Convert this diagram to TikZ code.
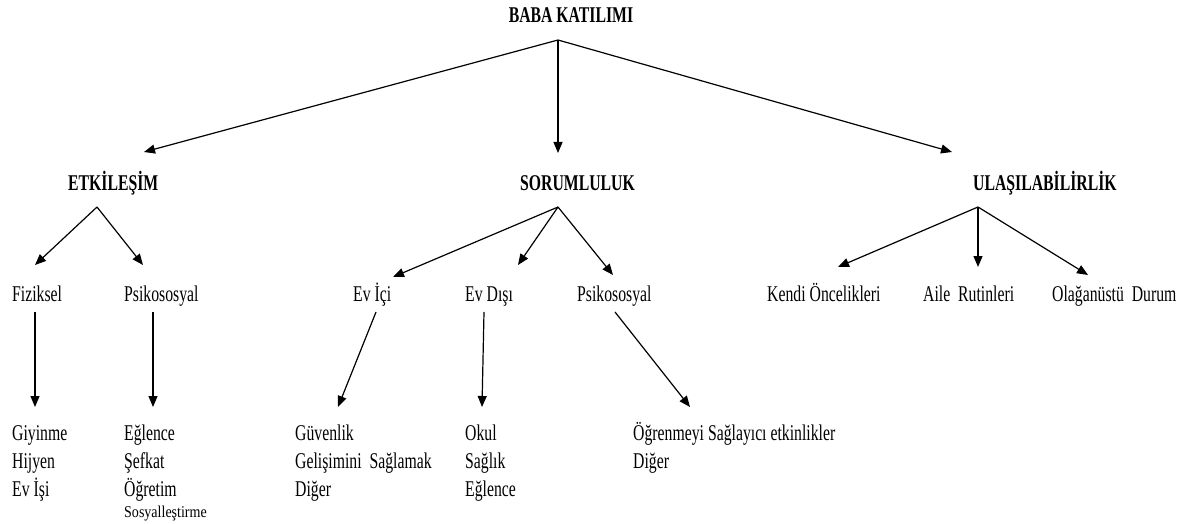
\documentclass[tikz,border=0pt]{standalone}
\usepackage{fontspec}
\setmainfont{Liberation Serif}[FakeStretch=0.70]
\newfontfamily\sosfont{Liberation Serif}[FakeStretch=0.85]
\usetikzlibrary{arrows.meta}
\begin{document}
\begin{tikzpicture}[x=1pt,y=-1pt,
  arr/.style={line width=1.2pt,-{Triangle[length=11pt,width=9pt]}},
  head/.style={inner sep=0pt,anchor=base west,font=\fontsize{22.5}{28}\selectfont\bfseries},
  lbl/.style={inner sep=0pt,anchor=base west,font=\fontsize{22.5}{28}\selectfont},
  lst/.style={inner sep=0pt,anchor=base west,font=\fontsize{22.5}{28}\selectfont}]
\useasboundingbox (0,0) rectangle (1186,524);
% texts
\node[head,anchor=base] (baba) at (571,23) {BABA KATILIMI};
\node[head] (etk) at (68,190) {ETKİLEŞİM};
\node[head] (sor) at (520,190) {SORUMLULUK};
\node[head] (ula) at (973,190) {ULAŞILABİLİRLİK};
\node[lbl] (fiz) at (12,301) {Fiziksel};
\node[lbl] (psi1) at (124,301) {Psikososyal};
\node[lbl] (evic) at (353,301) {Ev İçi};
\node[lbl] (evdis) at (465,301) {Ev Dışı};
\node[lbl] (psi2) at (577,301) {Psikososyal};
\node[lbl] (kendi) at (767,301) {Kendi Öncelikleri};
\node[lbl] (aile) at (923,301) {Aile~ Rutinleri};
\node[lbl] (olag) at (1052,301) {Olağanüstü~ Durum};
\node[lst] (l1) at (12,440) {\begin{tabular}[t]{@{}l@{}}Giyinme\\Hijyen\\Ev İşi\end{tabular}};
\node[lst] (l2) at (124,440) {\begin{tabular}[t]{@{}l@{}}Eğlence\\Şefkat\\Öğretim\\[-7pt]{\sosfont\fontsize{16.5}{18}\selectfont Sosyalleştirme}\end{tabular}};
\node[lst] (l3) at (295,440) {\begin{tabular}[t]{@{}l@{}}Güvenlik\\Gelişimini~ Sağlamak\\Diğer\end{tabular}};
\node[lst] (l4) at (465,440) {\begin{tabular}[t]{@{}l@{}}Okul\\Sağlık\\Eğlence\end{tabular}};
\node[lst] (l5) at (633,440) {\begin{tabular}[t]{@{}l@{}}Öğrenmeyi Sağlayıcı etkinlikler\\Diğer\end{tabular}};
% junctions and arrow ends
\coordinate (babaJ) at (558,40);
\coordinate (etkJ) at (97,207);
\coordinate (sorJ) at (558,207);
\coordinate (ulaJ) at (978,207);
\coordinate (etkT) at (144,152);
\coordinate (sorT) at (558,153);
\coordinate (ulaT) at (952,152);
\coordinate (fizT) at (35,265);
\coordinate (psi1T) at (143,265);
\coordinate (evicT) at (393,277);
\coordinate (evdisT) at (518,265);
\coordinate (psi2T) at (613,275);
\coordinate (kendiT) at (838,267);
\coordinate (aileT) at (978,267);
\coordinate (olagT) at (1088,275);
\coordinate (fizS) at (35,312);
\coordinate (psi1S) at (153,312);
\coordinate (evicS) at (376,312);
\coordinate (evdisS) at (484,312);
\coordinate (psi2S) at (615,312);
\coordinate (l1T) at (35,407);
\coordinate (l2T) at (153,407);
\coordinate (l3T) at (338,407);
\coordinate (l4T) at (482,407);
\coordinate (l5T) at (690,407);
% connectors
\draw[arr] (babaJ) -- (etkT);
\draw[arr] (babaJ) -- (sorT);
\draw[arr] (babaJ) -- (ulaT);
\draw[arr] (etkJ) -- (fizT);
\draw[arr] (etkJ) -- (psi1T);
\draw[arr] (sorJ) -- (evicT);
\draw[arr] (sorJ) -- (evdisT);
\draw[arr] (sorJ) -- (psi2T);
\draw[arr] (ulaJ) -- (kendiT);
\draw[arr] (ulaJ) -- (aileT);
\draw[arr] (ulaJ) -- (olagT);
\draw[arr] (fizS) -- (l1T);
\draw[arr] (psi1S) -- (l2T);
\draw[arr] (evicS) -- (l3T);
\draw[arr] (evdisS) -- (l4T);
\draw[arr] (psi2S) -- (l5T);
\end{tikzpicture}
\end{document}
